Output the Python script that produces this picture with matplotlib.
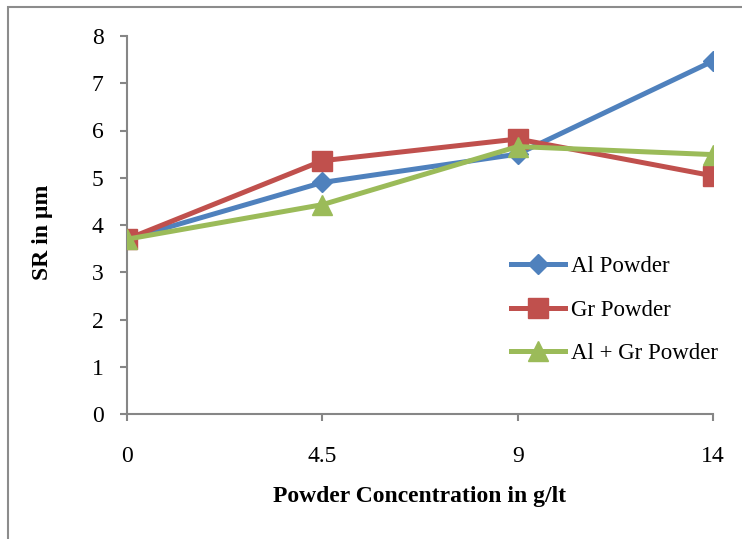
import numpy as np
import matplotlib.pyplot as plt
from matplotlib.patches import Rectangle

# data
conc_labels = ['0', '4.5', '9', '14']      # powder concentration, g/lt
al_powder = [3.7, 4.9, 5.5, 7.47]           # SR in um
gr_powder = [3.7, 5.36, 5.82, 5.04]
al_gr_powder = [3.7, 4.43, 5.66, 5.49]
y_ticks = [0, 1, 2, 3, 4, 5, 6, 7, 8]

plt.rcParams['font.family'] = ['Liberation Serif', 'DejaVu Serif']

fig = plt.figure(figsize=(7.42, 5.39), dpi=100)
ax = fig.add_axes([127/742, 1 - 414/539, (713 - 127)/742, (414 - 36)/539])

x = np.arange(len(conc_labels))
ax.plot(x, al_powder, color='#4F81BD', lw=3.6, marker='D', ms=10, label='Al Powder', zorder=3)
ax.plot(x, gr_powder, color='#C0504D', lw=3.6, marker='s', ms=14, label='Gr Powder', zorder=3)
ax.plot(x, al_gr_powder, color='#9BBB59', lw=3.6, marker='^', ms=14, label='Al + Gr Powder', zorder=4)

ax.set_xlim(0, 3)
ax.set_ylim(0, 8)
ax.set_xticks(x)
ax.set_xticklabels(conc_labels)
ax.set_yticks(y_ticks)

for s in ['top', 'right']:
    ax.spines[s].set_visible(False)
for s in ['left', 'bottom']:
    ax.spines[s].set_color('#868686')
    ax.spines[s].set_linewidth(1.5)
    ax.spines[s].set_clip_on(False)
ax.tick_params(axis='both', direction='out', length=5, width=1.5, color='#868686', labelsize=17)
ax.tick_params(axis='y', pad=12)
ax.tick_params(axis='x', pad=18)

ax.set_xlabel('Powder Concentration in g/lt', fontsize=17, fontweight='bold')
ax.set_ylabel('SR in µm', fontsize=17, fontweight='bold')
ax.xaxis.set_label_coords(0.5, -0.19)
ax.yaxis.set_label_coords(-0.127, 0.48)

ax.legend(loc='center left', bbox_to_anchor=(502/742, 1 - 310/539), bbox_transform=fig.transFigure,
          frameon=False, fontsize=16.5, handlelength=2.35, handletextpad=0.25, labelspacing=0.98,
          borderaxespad=0)

# outer chart border (cut off at the right and bottom)
fig.patches.append(Rectangle((8/742, -0.1), 1.2, 1 - 7/539 + 0.1, transform=fig.transFigure,
                             fill=False, edgecolor='#8c8c8c', lw=1.5))

plt.savefig('out.png', dpi=100)
